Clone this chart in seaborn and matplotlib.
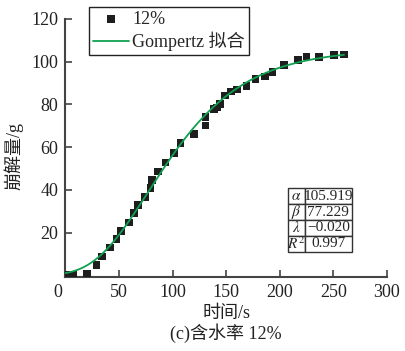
import numpy as np
import pandas as pd
import matplotlib
matplotlib.use("Agg")
import matplotlib.pyplot as plt
import matplotlib.transforms as mtransforms
import seaborn as sns

# ---- data ----
time_s = [2.5, 7, 20.4, 29.2, 34.4, 41.6, 47.8, 51.8, 59.3, 64.3, 68, 74.2, 79.5, 81,
          86.6, 93.5, 101.2, 107.5, 120.2, 130.8, 130.8, 138.8, 141.6, 144.1, 148.8,
          154.4, 160.3, 169, 177.4, 186.1, 193.2, 203.8, 217.1, 225, 236.7, 250.4, 259.7]
mass_g = [0.3, 0.3, 0.5, 4.8, 8.7, 12.9, 17, 20.8, 24.7, 29.1, 32.8, 36.7, 40.8, 44.7,
          48.6, 52.8, 57.2, 61.9, 66.1, 70.1, 74.1, 77.8, 78.6, 80.2, 84.1,
          86.1, 86.9, 88.7, 91.9, 93.1, 95.2, 98.3, 100.9, 102.5, 102.2, 103, 103.3]

# Gompertz fit parameters shown in the chart
alpha_p = 105.919
beta_p = 77.229
lambda_p = -0.020
r2 = 0.997
param_names = [r"$\alpha$", r"$\beta$", r"$\lambda$", r"$R^2$"]
param_values = ["105.919", "77.229", "\u22120.020", "0.997"]

x_ticks = [0, 50, 100, 150, 200, 250, 300]
y_ticks = [20, 40, 60, 80, 100, 120]
series_label = "12%"
fit_label = "Gompertz 拟合"
xlabel = "时间/s"
ylabel = "崩解量/g"
caption = "(c)含水率 12%"

sns.set_theme(style="ticks")
plt.rcParams["font.family"] = ["Liberation Serif", "Noto Sans CJK SC", "DejaVu Sans"]
plt.rcParams["mathtext.fontset"] = "stix"

fig = plt.figure(figsize=(4.06, 3.51), dpi=100)
ax = fig.add_axes([0.161, 0.211, 0.792, 0.735])

df = pd.DataFrame({"t": time_s, "m": mass_g})
xf = np.linspace(0, 260, 300)
yf = alpha_p * np.exp(-np.exp(lambda_p * (xf - beta_p)))
fit_df = pd.DataFrame({"t": xf, "m": yf})

sns.scatterplot(data=df, x="t", y="m", ax=ax, marker="s", s=30, color="#1e1e1e",
                edgecolor="none", label=series_label, zorder=3)
sns.lineplot(data=fit_df, x="t", y="m", ax=ax, color="#10a050", linewidth=1.3,
             label=fit_label, zorder=4)

ax.set_xlim(0, 300)
ax.set_ylim(-0.8, 120)
ax.set_xticks(x_ticks)
ax.set_yticks(y_ticks)
ax.tick_params(direction="in", length=5, width=1.2, color="#444444", labelsize=13,
               labelcolor="#222222", pad=5)
for s in ["top", "right"]:
    ax.spines[s].set_visible(False)
for s in ["left", "bottom"]:
    ax.spines[s].set_linewidth(1.5)
    ax.spines[s].set_color("#444444")

# shift the "0" label slightly left like the reference
lbl0 = ax.get_xticklabels()[0]
lbl0.set_transform(lbl0.get_transform() + mtransforms.ScaledTranslation(-8 / 100, 0, fig.dpi_scale_trans))

ax.set_xlabel(xlabel, fontsize=13, color="#222222", labelpad=3)
ax.set_ylabel(ylabel, fontsize=13, color="#222222", labelpad=3)
ax.yaxis.set_label_coords(-0.13, 0.47)

leg = ax.legend(loc="upper left", bbox_to_anchor=(0.074, 1.045), frameon=True,
                fancybox=False, framealpha=1, edgecolor="#222222", fontsize=13,
                handlelength=2.0, handletextpad=0.2, borderpad=0.2, labelspacing=0.2,
                borderaxespad=0)
leg.get_frame().set_linewidth(1.0)

# parameter table
cells = [[n, v] for n, v in zip(param_names, param_values)]
tab = ax.table(cellText=cells, bbox=[0.692, 0.098, 0.2, 0.245], cellLoc="center",
               colWidths=[0.26, 0.74])
tab.auto_set_font_size(False)
tab.set_fontsize(11)
for (r, c), cell in tab.get_celld().items():
    cell.set_linewidth(1.0)
    cell.set_edgecolor("#333333")
    cell.set_facecolor("white")
    cell.PAD = 0.02
    cell.get_text().set_ha("center")

fig.text(0.556, 0.05, caption, ha="center", va="center", fontsize=13, color="#222222")

fig.savefig("out.png", dpi=100)
